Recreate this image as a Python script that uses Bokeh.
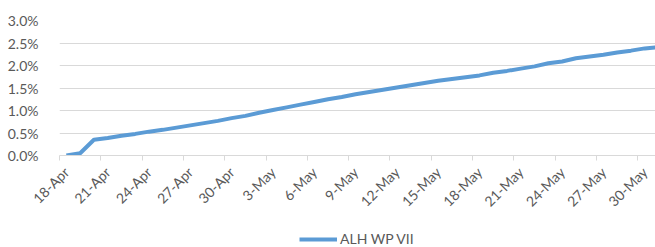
import math
from bokeh.plotting import figure
from bokeh.layouts import column
from bokeh.models import (Range1d, FixedTicker, CustomJSTickFormatter, Legend, LegendItem,
                          ColumnDataSource)
from bokeh.embed import file_html
from bokeh.resources import INLINE

# Categories: daily dates from 18-Apr to 31-May
dates = ["18-Apr", "19-Apr", "20-Apr", "21-Apr", "22-Apr", "23-Apr", "24-Apr", "25-Apr",
         "26-Apr", "27-Apr", "28-Apr", "29-Apr", "30-Apr", "1-May", "2-May", "3-May",
         "4-May", "5-May", "6-May", "7-May", "8-May", "9-May", "10-May", "11-May",
         "12-May", "13-May", "14-May", "15-May", "16-May", "17-May", "18-May", "19-May",
         "20-May", "21-May", "22-May", "23-May", "24-May", "25-May", "26-May", "27-May",
         "28-May", "29-May", "30-May", "31-May"]

# Series values (percent)
alh_wp_vii = [0.00, 0.05, 0.35, 0.39, 0.44, 0.48, 0.53, 0.57, 0.62, 0.67,
              0.72, 0.77, 0.83, 0.88, 0.95, 1.01, 1.07, 1.13, 1.19, 1.25,
              1.30, 1.36, 1.41, 1.46, 1.51, 1.56, 1.61, 1.66, 1.70, 1.74,
              1.78, 1.84, 1.88, 1.93, 1.98, 2.05, 2.09, 2.16, 2.20, 2.24,
              2.29, 2.33, 2.38, 2.41]

# Tick labels every 3 days
tick_labels = ["18-Apr", "21-Apr", "24-Apr", "27-Apr", "30-Apr", "3-May", "6-May", "9-May",
               "12-May", "15-May", "18-May", "21-May", "24-May", "27-May", "30-May"]
y_ticks = [0.0, 0.5, 1.0, 1.5, 2.0, 2.5, 3.0]
series_name = "ALH WP VII"

LINE_COLOR = "#5B9BD5"
TEXT_COLOR = "#595959"
GRID_COLOR = "#d9d9d9"
FONT = "Lato"

xs = list(range(len(dates)))
src = ColumnDataSource(dict(x=xs, y=alh_wp_vii, d=dates))

p = figure(width=655, height=222, output_backend="svg", toolbar_location=None,
           x_range=Range1d(-0.5, 42.78), y_range=Range1d(0, 3.0),
           min_border_left=59, min_border_right=0, min_border_top=20, min_border_bottom=67)
p.outline_line_color = None

r = p.line("x", "y", source=src, line_color=LINE_COLOR, line_width=4, line_join="round")

tick_pos = [dates.index(t) for t in tick_labels]
minor_pos = [t - 0.5 for t in tick_pos]
p.xaxis.ticker = FixedTicker(ticks=tick_pos, minor_ticks=minor_pos)
p.xaxis.major_label_overrides = {i: dates[i] for i in tick_pos}
p.xaxis.major_label_orientation = math.pi / 4
p.xaxis.major_tick_out = 0
p.xaxis.major_tick_in = 0
p.xaxis.minor_tick_out = 5
p.xaxis.minor_tick_in = 0
p.xaxis.minor_tick_line_color = GRID_COLOR
p.xaxis.axis_line_color = GRID_COLOR
p.xaxis.axis_line_width = 1
p.xaxis.major_label_text_font = FONT
p.xaxis.major_label_text_font_size = "14px"
p.xaxis.major_label_text_color = TEXT_COLOR
p.xaxis.major_label_standoff = 9

p.yaxis.ticker = FixedTicker(ticks=y_ticks)
p.yaxis.formatter = CustomJSTickFormatter(code="return tick.toFixed(1) + '%';")
p.yaxis.axis_line_color = None
p.yaxis.major_tick_line_color = None
p.yaxis.minor_tick_line_color = None
p.yaxis.major_label_text_font = FONT
p.yaxis.major_label_text_font_size = "14px"
p.yaxis.major_label_text_color = TEXT_COLOR
p.yaxis.major_label_standoff = 15

p.xgrid.grid_line_color = None
p.ygrid.ticker = FixedTicker(ticks=y_ticks)
p.ygrid.grid_line_color = GRID_COLOR
p.ygrid.grid_line_width = 1

# Legend strip below the chart (its own small figure; the series is drawn off-range there)
pl = figure(width=655, height=25, output_backend="svg", toolbar_location=None,
            x_range=Range1d(1000, 1001), y_range=Range1d(1000, 1001),
            min_border_left=0, min_border_right=0, min_border_top=0, min_border_bottom=0)
pl.outline_line_color = None
pl.axis.visible = False
pl.grid.visible = False
rl = pl.line("x", "y", source=src, line_color=LINE_COLOR, line_width=4)

legend = Legend(items=[LegendItem(label=series_name, renderers=[rl])],
                orientation="horizontal", location=(240, 0),
                border_line_color=None, background_fill_alpha=0,
                label_text_font=FONT, label_text_font_size="14px",
                label_text_color=TEXT_COLOR, glyph_width=38, glyph_height=14,
                margin=0, padding=0, label_standoff=3, label_height=14)
pl.add_layout(legend)

layout = column(p, pl, spacing=0)
open("out.html", "w").write(file_html(layout, INLINE))
